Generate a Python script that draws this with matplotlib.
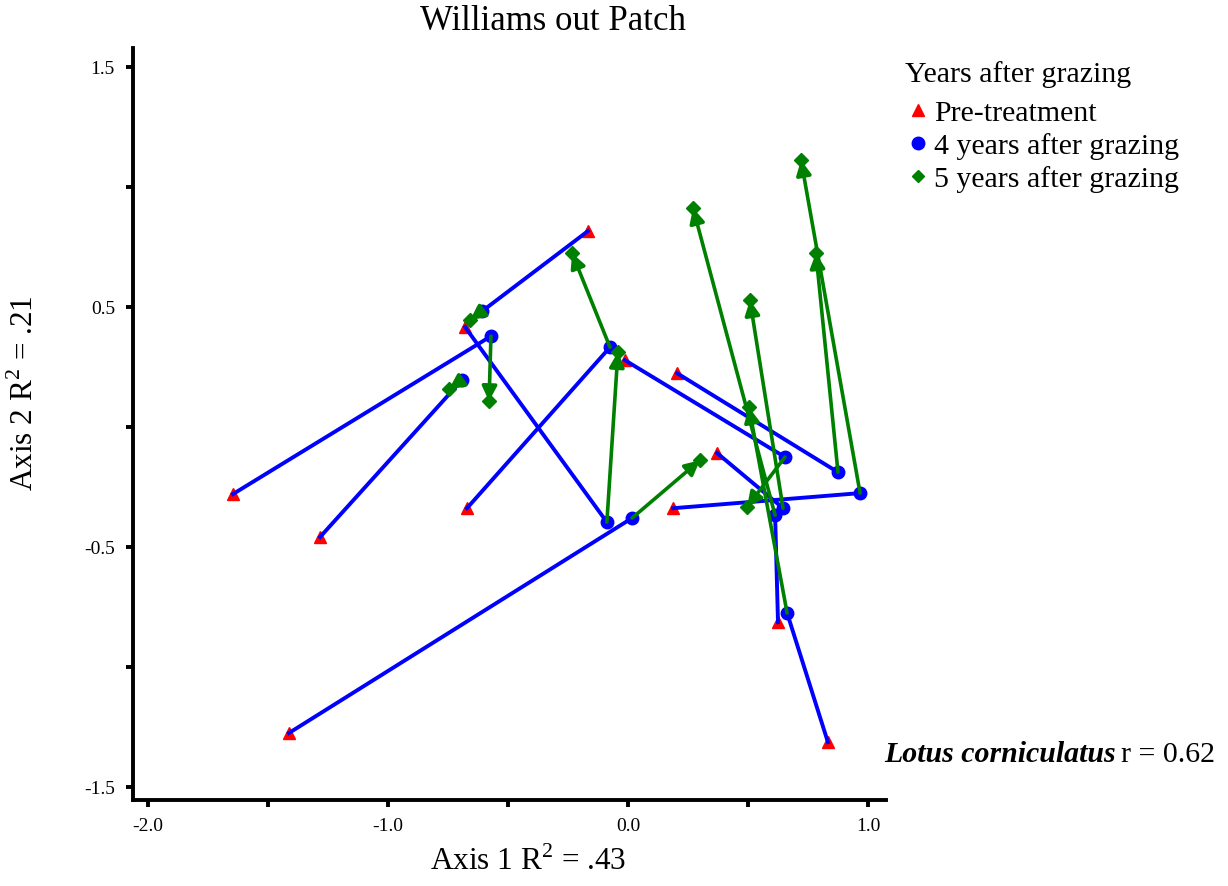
from matplotlib import pyplot as plt
from matplotlib.lines import Line2D
import numpy as np

plt.rcParams['font.family'] = ['Liberation Serif', 'DejaVu Serif']
plt.rcParams['mathtext.fontset'] = 'custom'
plt.rcParams['mathtext.rm'] = 'Liberation Serif'

# ordination scores, one entry per plot (pre-treatment -> 4 yr -> 5 yr)
pre_x = [-1.646, -1.283, -0.679, -0.167, -0.671, -0.013, 0.204, 0.188, 0.371, -1.413, 0.833, 0.625]
pre_y = [-0.279, -0.458, 0.417, 0.817, -0.338, 0.279, 0.225, -0.338, -0.108, -1.275, -1.313, -0.813]
yr4_x = [-0.571, -0.692, -0.088, -0.608, -0.075, 0.654, 0.875, 0.967, 0.646, 0.017, 0.663, 0.613]
yr4_y = [0.379, 0.196, -0.396, 0.483, 0.333, -0.125, -0.188, -0.275, -0.338, -0.379, -0.775, -0.367]
yr5_x = [-0.579, -0.746, -0.042, -0.658, -0.233, 0.496, 0.783, 0.721, 0.508, 0.300, 0.504, 0.271]
yr5_y = [0.108, 0.158, 0.313, 0.446, 0.725, -0.333, 0.725, 1.113, 0.529, -0.138, 0.083, 0.913]

xticks = [-2.0, -1.5, -1.0, -0.5, 0.0, 0.5, 1.0]
xticklabels = ['-2.0', '', '-1.0', '', '0.0', '', '1.0']
yticks = [-1.5, -1.0, -0.5, 0.0, 0.5, 1.0, 1.5]
yticklabels = ['-1.5', '', '-0.5', '', '0.5', '', '1.5']

fig = plt.figure(figsize=(12.28, 8.86), dpi=100)
ax = fig.add_axes([133/1228, 86/886, (886-133)/1228, (800-48)/886])

ax.plot(pre_x, pre_y, '^', color='red', markersize=8.5, zorder=2, linestyle='none')
for i in range(len(pre_x)):
    ax.plot([pre_x[i], yr4_x[i]], [pre_y[i], yr4_y[i]], '-', color='blue', lw=2.8, zorder=3)
ax.plot(yr4_x, yr4_y, 'o', color='blue', markersize=9, zorder=4, linestyle='none')
for i in range(len(yr4_x)):
    ax.annotate('', xy=(yr5_x[i], yr5_y[i]), xytext=(yr4_x[i], yr4_y[i]),
                arrowprops=dict(arrowstyle='-|>', color='green', lw=2.6,
                                shrinkA=0, shrinkB=0, mutation_scale=22),
                zorder=5)
ax.plot(yr5_x, yr5_y, 'D', color='green', markersize=7, zorder=6, linestyle='none')

ax.set_xlim(-2.0625, 1.075)
ax.set_ylim(-1.554, 1.58)
ax.set_xticks(xticks)
ax.set_xticklabels(xticklabels)
ax.set_yticks(yticks)
ax.set_yticklabels(yticklabels)
ax.tick_params(direction='out', length=5, width=2.8, labelsize=14, pad=8)
for s in ['top', 'right']:
    ax.spines[s].set_visible(False)
for s in ['left', 'bottom']:
    ax.spines[s].set_linewidth(2.8)

fig.text(553/1228, 1 - 22/886, 'Williams out Patch', ha='center', va='center', fontsize=25)
fig.text(528/1228, 24/886, 'Axis 1 R$^{2}$ = .43', ha='center', va='center', fontsize=22.5)
fig.text(25/1228, 1 - 393/886, 'Axis 2 R$^{2}$ = .21', ha='center', va='center',
         fontsize=22.5, rotation=90)

# legend
fig.text(905/1228, 1 - 75/886, 'Years after grazing', ha='left', va='center', fontsize=21.5)
handles = [Line2D([], [], marker='^', color='red', linestyle='none', markersize=8),
           Line2D([], [], marker='o', color='blue', linestyle='none', markersize=9),
           Line2D([], [], marker='D', color='green', linestyle='none', markersize=6.5)]
labels = ['Pre-treatment', '4 years after grazing', '5 years after grazing']
leg = fig.legend(handles, labels, loc='upper left',
                 bbox_to_anchor=(894/1228, 1 - 85/886), frameon=False, fontsize=21.5,
                 handlelength=0.6, handletextpad=0.25,
                 labelspacing=0.2, borderpad=0)

# species annotation
t1 = fig.text(884/1228, 1 - 755/886, 'Lotus corniculatus', fontsize=21.5,
              fontweight='bold', fontstyle='italic', ha='left', va='center')
fig.canvas.draw()
bb = t1.get_window_extent()
fig.text(bb.x1/1228 + 5/1228, 1 - 755/886, 'r = 0.62', fontsize=21.5, ha='left', va='center')

fig.savefig('out.png', dpi=100)
